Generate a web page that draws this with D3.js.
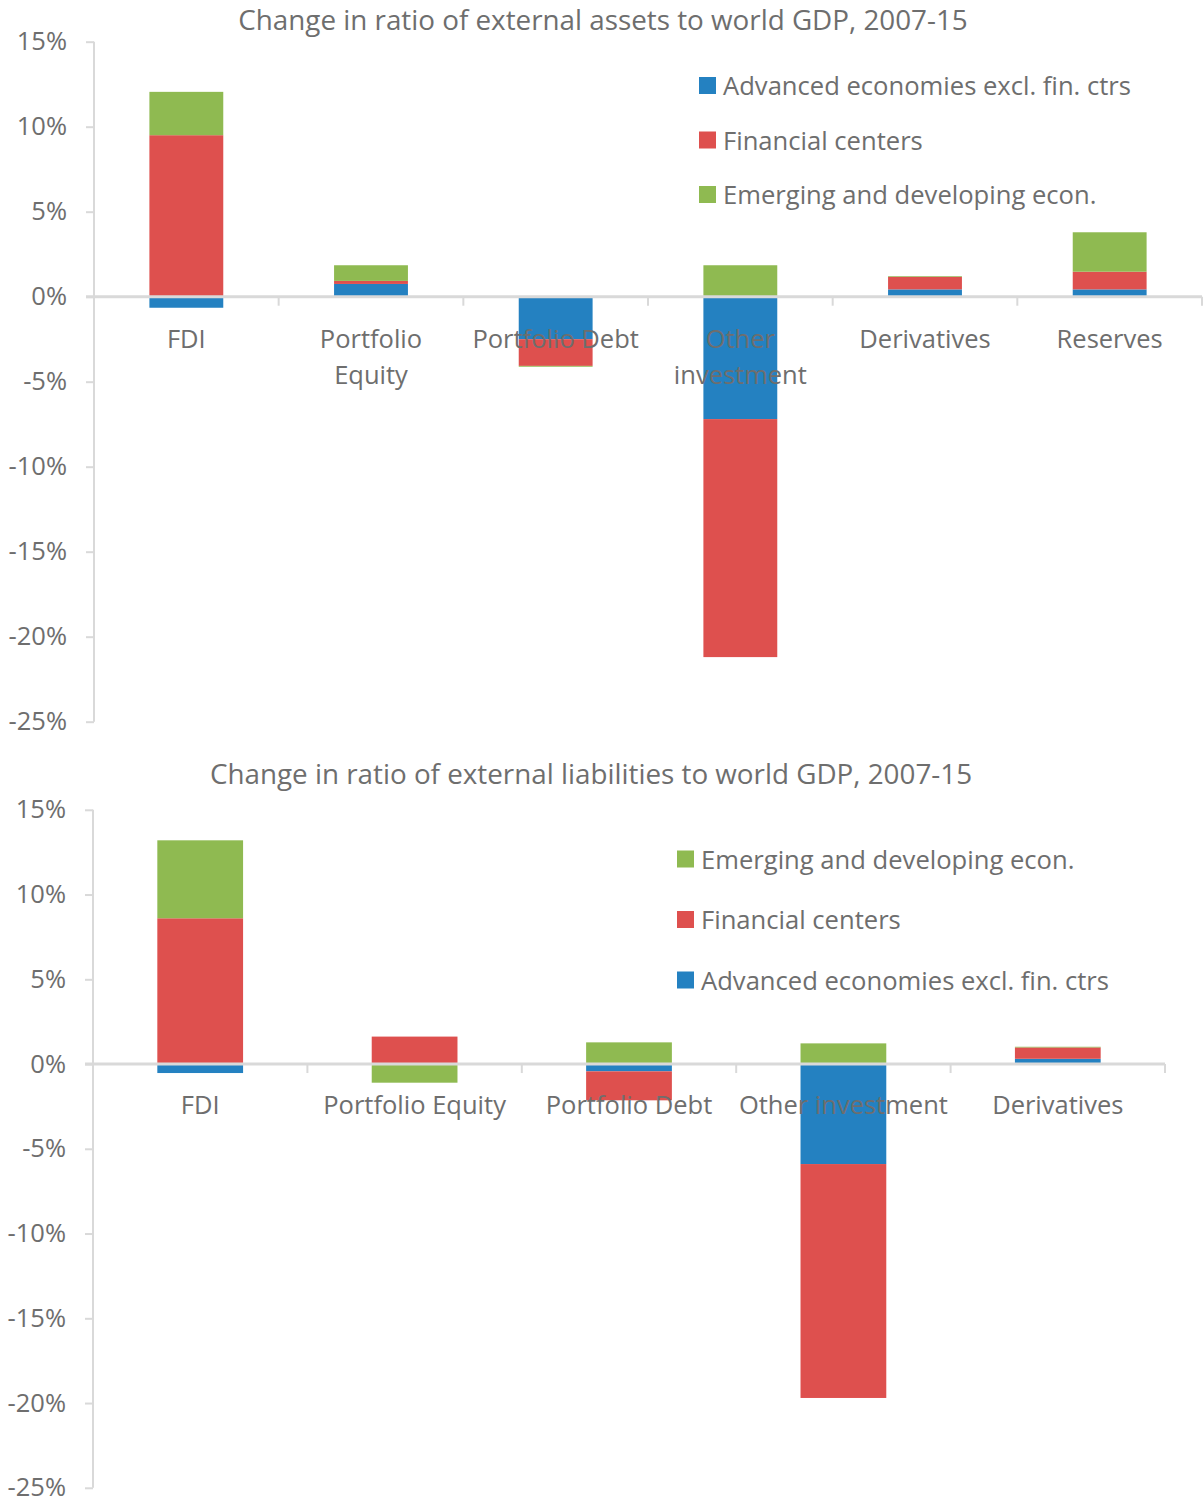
<!DOCTYPE html>
<html>
<head>
<meta charset="utf-8">
<script src="https://cdn.jsdelivr.net/npm/d3@7"></script>
<style>
  body { margin: 0; background: #fff; }
  text { font-family: "Open Sans", sans-serif; fill: #6e6e6e; }
</style>
</head>
<body>
<svg id="chart" width="1204" height="1503"></svg>
<script>
// ---- data (percent of world GDP) ----
var seriesNames = ["Advanced economies excl. fin. ctrs", "Financial centers", "Emerging and developing econ."];
var seriesColors = ["#2481c1", "#de504e", "#8fba51"];

var assetCats = ["FDI", "Portfolio Equity", "Portfolio Debt", "Other investment", "Derivatives", "Reserves"];
var assetLabels = [["FDI"], ["Portfolio", "Equity"], ["Portfolio Debt"], ["Other", "investment"], ["Derivatives"], ["Reserves"]];
var assetAdvanced = [-0.65, 0.75, -2.5, -7.2, 0.43, 0.43];
var assetFinCtrs = [9.5, 0.18, -1.57, -14.0, 0.74, 1.04];
var assetEmerging = [2.55, 0.92, -0.05, 1.85, 0.04, 2.32];

var liabCats = ["FDI", "Portfolio Equity", "Portfolio Debt", "Other investment", "Derivatives"];
var liabAdvanced = [-0.53, 0.02, -0.43, -5.9, 0.31];
var liabFinCtrs = [8.6, 1.6, -1.71, -13.8, 0.67];
var liabEmerging = [4.6, -1.1, 1.28, 1.22, 0.04];

var yTicks = [15, 10, 5, 0, -5, -10, -15, -20, -25];

var svg = d3.select("#chart");

function drawPanel(cfg) {
  var g = svg.append("g");
  var keys = ["adv", "fin", "eme"];
  var rows = cfg.cats.map(function(c, i) {
    return {cat: c, adv: cfg.adv[i], fin: cfg.fin[i], eme: cfg.eme[i]};
  });

  var y = d3.scaleLinear().domain([-25, 15]).range([cfg.bottom, cfg.top]);
  var x = d3.scaleBand().domain(cfg.cats).range([cfg.left, cfg.right])
    .paddingInner(0.6).paddingOuter(0.3);
  var step = x.step();

  var stack = d3.stack().keys(keys).offset(d3.stackOffsetDiverging)(rows);

  // bars
  g.selectAll("g.series").data(stack).enter().append("g")
    .attr("class", "series")
    .attr("fill", function(d, i) { return seriesColors[i]; })
    .selectAll("rect").data(function(d) { return d; }).enter().append("rect")
    .attr("x", function(d) { return x(d.data.cat); })
    .attr("width", x.bandwidth())
    .attr("y", function(d) { return y(Math.max(d[0], d[1])); })
    .attr("height", function(d) { return Math.abs(y(d[0]) - y(d[1])); });

  // y axis
  var yAxis = d3.axisLeft(y).tickValues(yTicks).tickSize(8)
    .tickFormat(function(d) { return d + "%"; });
  var ya = g.append("g").attr("transform", "translate(" + cfg.left + ",0)").call(yAxis);
  ya.select(".domain").attr("stroke", "#d9d9d9").attr("stroke-width", 2)
    .attr("d", "M0," + y(-25) + "V" + y(15));
  ya.selectAll(".tick line").attr("stroke", "#d9d9d9").attr("stroke-width", 2);
  ya.selectAll(".tick text").attr("x", -27).attr("font-size", 25.5)
    .attr("font-family", null).attr("fill", null);

  // zero line + category ticks
  var y0 = y(0);
  g.append("line").attr("x1", cfg.left - 8).attr("x2", cfg.right)
    .attr("y1", y0).attr("y2", y0).attr("stroke", "#d9d9d9").attr("stroke-width", 3);
  var bounds = cfg.cats.map(function(c) { return x(c) - step * 0.3 + step; });
  g.selectAll("line.ctick").data(bounds).enter().append("line")
    .attr("class", "ctick")
    .attr("x1", function(d) { return d; }).attr("x2", function(d) { return d; })
    .attr("y1", y0).attr("y2", y0 + 9)
    .attr("stroke", "#d9d9d9").attr("stroke-width", 2);

  // category labels
  var lab = g.selectAll("text.cat").data(cfg.labels).enter().append("text")
    .attr("class", "cat")
    .attr("text-anchor", "middle")
    .attr("font-size", 25.5)
    .attr("x", function(d, i) { return x(cfg.cats[i]) + x.bandwidth() / 2; })
    .attr("y", y0 + cfg.labelDy);
  lab.selectAll("tspan").data(function(d) { return d; }).enter().append("tspan")
    .attr("x", function() { return d3.select(this.parentNode).attr("x"); })
    .attr("dy", function(d, i) { return i === 0 ? 0 : 36; })
    .text(function(d) { return d; });

  // title
  g.append("text").attr("x", cfg.titleX).attr("y", cfg.titleY)
    .attr("text-anchor", "middle").attr("font-size", 27.8)
    .text(cfg.title);

  // legend
  var leg = g.selectAll("g.leg").data(cfg.legendOrder).enter().append("g")
    .attr("class", "leg")
    .attr("transform", function(d, i) {
      return "translate(" + cfg.legX + "," + (cfg.legY + i * cfg.legGap) + ")";
    });
  leg.append("rect").attr("x", 0).attr("y", -8.5).attr("width", 17).attr("height", 17)
    .attr("fill", function(d) { return seriesColors[d]; });
  leg.append("text").attr("x", 24).attr("y", 0).attr("dominant-baseline", "central")
    .attr("font-size", 25.6)
    .text(function(d) { return seriesNames[d]; });
}

drawPanel({
  cats: assetCats, labels: assetLabels,
  adv: assetAdvanced, fin: assetFinCtrs, eme: assetEmerging,
  top: 41.7, bottom: 721.7, left: 94, right: 1202,
  labelDy: 51,
  title: "Change in ratio of external assets to world GDP, 2007-15",
  titleX: 603, titleY: 30,
  legendOrder: [0, 1, 2], legX: 699, legY: 85.5, legGap: 54.5
});

drawPanel({
  cats: liabCats, labels: liabCats.map(function(c) { return [c]; }),
  adv: liabAdvanced, fin: liabFinCtrs, eme: liabEmerging,
  top: 809.8, bottom: 1487.8, left: 93, right: 1165,
  labelDy: 50,
  title: "Change in ratio of external liabilities to world GDP, 2007-15",
  titleX: 591, titleY: 784,
  legendOrder: [2, 1, 0], legX: 677, legY: 859, legGap: 60.5
});
</script>
</body>
</html>
